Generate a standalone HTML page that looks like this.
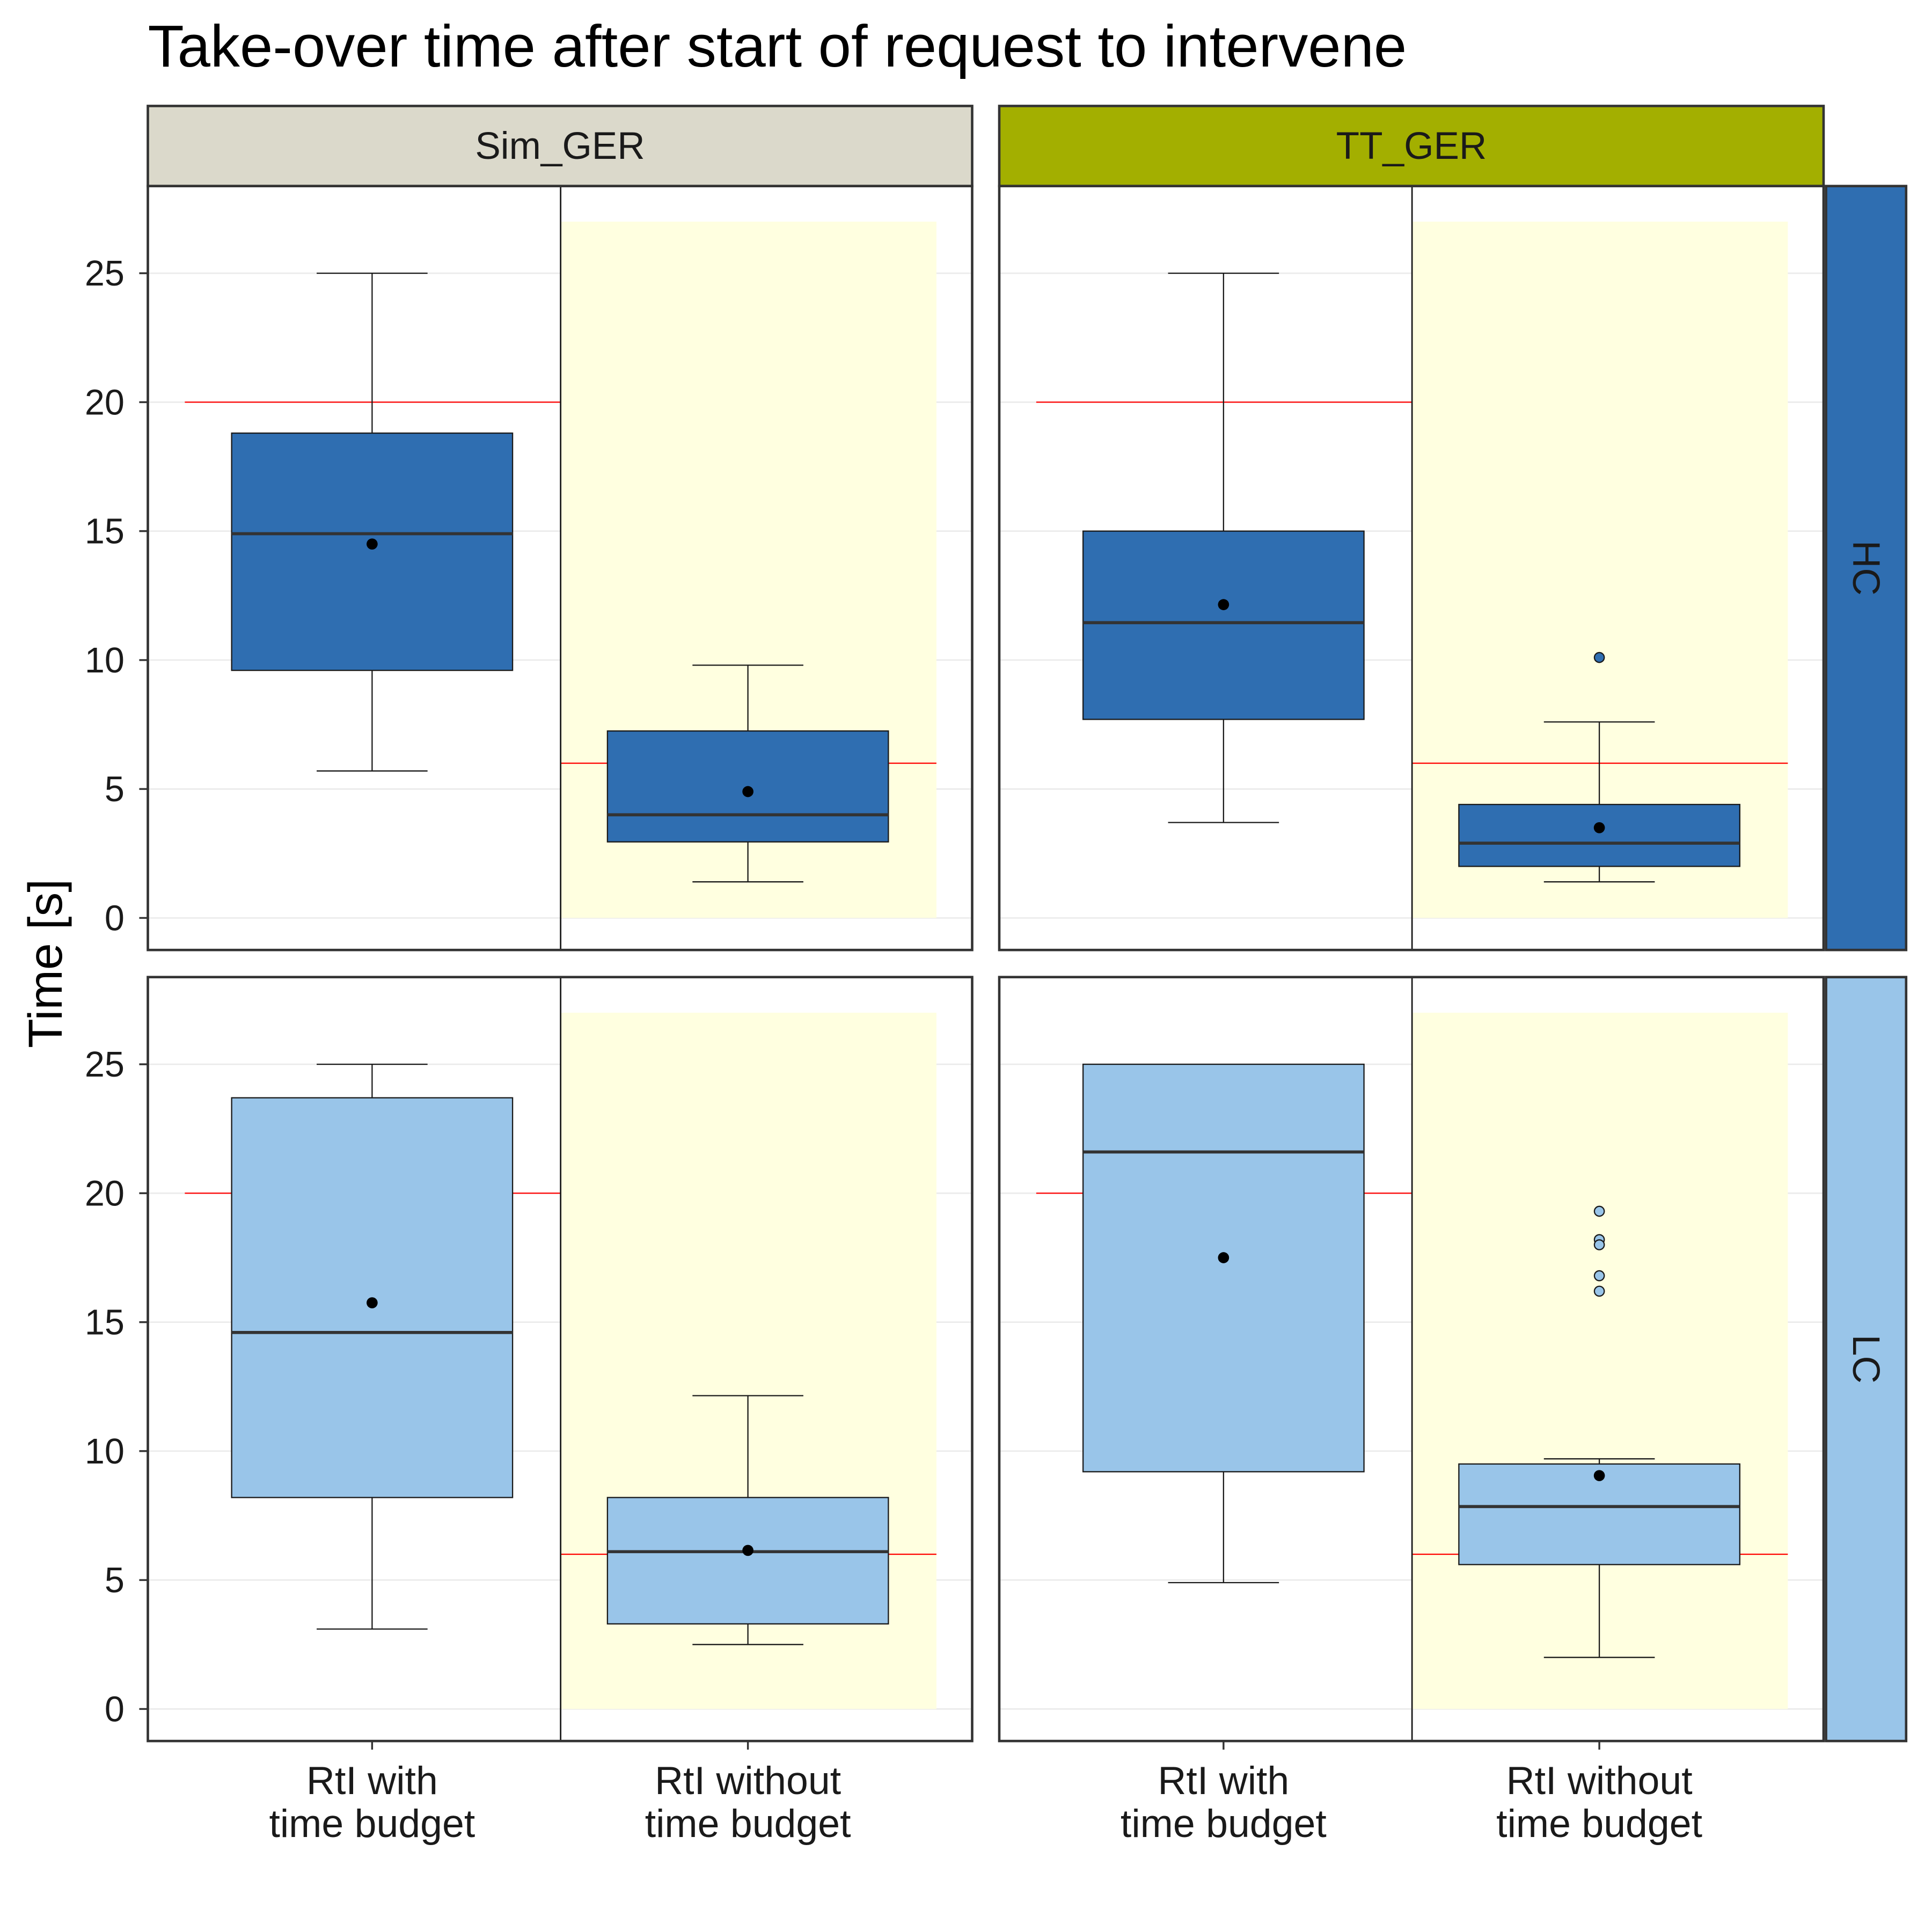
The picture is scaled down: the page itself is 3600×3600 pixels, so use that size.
<!DOCTYPE html>
<html><head><meta charset="utf-8"><style>html,body{margin:0;padding:0;background:#fff}svg{display:block}</style></head>
<body>
<svg id="chart" width="3600" height="3600" viewBox="0 0 1568 1568" xmlns="http://www.w3.org/2000/svg" font-family="Liberation Sans, sans-serif">
<rect width="1568" height="1568" fill="#fff"/>
<text x="120" y="54" font-size="48">Take-over time after start of request to intervene</text>
<text transform="translate(50,782) rotate(-90)" text-anchor="middle" font-size="39">Time [s]</text>
<g id="g"></g>
</svg>
<script>
const columns = ["Sim_GER","TT_GER"];
const rows = ["HC","LC"];
const categories = ["RtI with|time budget","RtI without|time budget"];
const yTicks = [0,5,10,15,20,25];
// [colIdx,rowIdx,catIdx, lo, q1, med, q3, hi, mean]
const boxStats = [
 [0,0,0, 5.7,9.6,14.9,18.8,25,14.5],
 [0,0,1, 1.4,2.95,4.0,7.25,9.8,4.9],
 [1,0,0, 3.7,7.7,11.45,15.0,25,12.15],
 [1,0,1, 1.4,2.0,2.9,4.4,7.6,3.5],
 [0,1,0, 3.1,8.2,14.6,23.7,25,15.75],
 [0,1,1, 2.5,3.3,6.1,8.2,12.15,6.15],
 [1,1,0, 4.9,9.2,21.6,25,25,17.5],
 [1,1,1, 2.0,5.6,7.85,9.5,9.7,9.05]
];
const outliers = [[1,0,1,10.1],[1,1,1,19.3],[1,1,1,18.2],[1,1,1,18.0],[1,1,1,16.8],[1,1,1,16.2]];
const budgetLines = [20,6];
const shadeTop = 27;

const NS="http://www.w3.org/2000/svg", G=document.getElementById('g');
function el(t,a,p){const e=document.createElementNS(NS,t);for(const k in a)e.setAttribute(k,a[k]);(p||G).appendChild(e);return e;}
const colX=[120,811], PW=669, rowY=[151,793], PH=620;
const rowColors=["#2f6eb1","#99c5e9"], stripColors=["#dbd9cb","#a3af00"];
function y(r,v){return rowY[r]+594-v*20.93;}
function x(c,k){return colX[c]+182+k*305;}
for(let c=0;c<2;c++){
 const s=el('rect',{x:colX[c],y:86,width:PW,height:65,fill:stripColors[c],stroke:"#333","stroke-width":2});
 
 const t=el('text',{x:colX[c]+PW/2,y:129,"text-anchor":"middle","font-size":31,fill:"#1a1a1a"});t.textContent=columns[c];
 
 for(let r=0;r<2;r++){
  const px=colX[c],py=rowY[r];
  yTicks.forEach(v=>el('line',{x1:px,x2:px+PW,y1:y(r,v),y2:y(r,v),stroke:"#ebebeb","stroke-width":1.2}));
  const sh=el('rect',{x:x(c,1)-152,y:y(r,shadeTop),width:305,height:y(r,0)-y(r,shadeTop),fill:"#ffffe0"});
  
  for(let k=0;k<2;k++){const bl=el('line',{x1:x(c,k)-152,x2:x(c,k)+153,y1:y(r,budgetLines[k]),y2:y(r,budgetLines[k]),stroke:"#ff0000","stroke-width":1});
   }
  el('line',{x1:px+335,x2:px+335,y1:py,y2:py+PH,stroke:"#1a1a1a","stroke-width":1.2});
  const f=el('rect',{x:px,y:py,width:PW,height:PH,fill:"none",stroke:"#333","stroke-width":2});
  
 }
}
for(let r=0;r<2;r++){
 const s=el('rect',{x:1482,y:rowY[r],width:65,height:PH,fill:rowColors[r],stroke:"#333","stroke-width":2});
 
 const t=el('text',{transform:`translate(1504,${rowY[r]+PH/2}) rotate(90)`,"text-anchor":"middle","font-size":31,fill:"#1a1a1a"});t.textContent=rows[r];
 
 yTicks.forEach(v=>{el('line',{x1:113,x2:120,y1:y(r,v),y2:y(r,v),stroke:"#333","stroke-width":1.5});
  const t2=el('text',{x:101,y:y(r,v)+10,"text-anchor":"end","font-size":29,fill:"#1a1a1a"});t2.textContent=v;
  });
}
for(let c=0;c<2;c++)for(let k=0;k<2;k++){
 el('line',{x1:x(c,k),x2:x(c,k),y1:1413,y2:1420,stroke:"#333","stroke-width":1.5});
 const [a,b]=categories[k].split('|');
 const t=el('text',{x:x(c,k),y:1456,"text-anchor":"middle","font-size":32,fill:"#1a1a1a"});t.textContent=a;
 
 const t2=el('text',{x:x(c,k),y:1491,"text-anchor":"middle","font-size":32,fill:"#1a1a1a"});t2.textContent=b;
 
}
boxStats.forEach(d=>{
 const [c,r,k,lo,q1,md,q3,hi,mn]=d, cx=x(c,k);
 const g=el('g',{});
 el('line',{x1:cx,x2:cx,y1:y(r,hi),y2:y(r,lo),stroke:"#1a1a1a","stroke-width":1},g);
 el('line',{x1:cx-45,x2:cx+45,y1:y(r,hi),y2:y(r,hi),stroke:"#1a1a1a","stroke-width":1},g);
 el('line',{x1:cx-45,x2:cx+45,y1:y(r,lo),y2:y(r,lo),stroke:"#1a1a1a","stroke-width":1},g);
 el('rect',{x:cx-114,y:y(r,q3),width:228,height:y(r,q1)-y(r,q3),fill:rowColors[r],stroke:"#1a1a1a","stroke-width":1},g);
 el('line',{x1:cx-114,x2:cx+114,y1:y(r,md),y2:y(r,md),stroke:"#333","stroke-width":2.5},g);
 el('circle',{cx:cx,cy:y(r,mn),r:4.5,fill:"#000"},g);
});
outliers.forEach(o=>{const [c,r,k,v]=o;const p=el('circle',{cx:x(c,k),cy:y(r,v),r:4,fill:rowColors[r],stroke:"#1a1a1a","stroke-width":1});
 });
</script>
</body></html>
